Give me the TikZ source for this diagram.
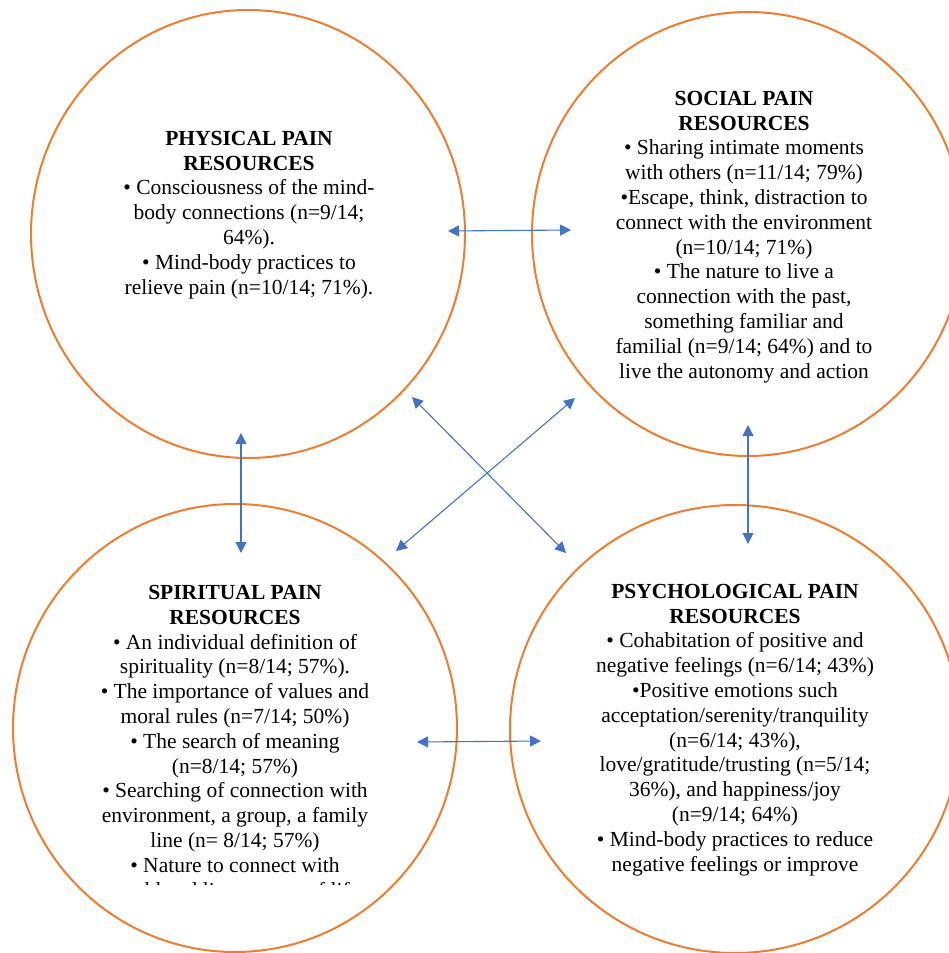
\documentclass[tikz,border=0pt]{standalone}
\usepackage{fontspec}
\setmainfont{Liberation Serif}
\usetikzlibrary{shapes.geometric,arrows.meta}
\definecolor{ringorange}{HTML}{ED7D31}
\definecolor{arrowblue}{HTML}{4472C4}
\tikzset{
  ring/.style={ellipse, draw=ringorange, line width=2pt, inner sep=0pt},
  txt/.style={align=center, inner sep=0pt, anchor=base, font=\fontsize{21.5}{24.8}\selectfont},
  biarrow/.style={draw=arrowblue, line width=1.1pt,
    {Triangle[length=11pt,width=11pt]}-{Triangle[length=11pt,width=11pt]}}
}
\begin{document}
\begin{tikzpicture}[x=1pt,y=-1pt]
\useasboundingbox (0,0) rectangle (949,953);
\fill[white] (0,0) rectangle (949,953);
% circles
\node[ring, minimum width=434pt, minimum height=448pt] (phys) at (248,234) {};
\node[ring, minimum width=432pt, minimum height=444pt] (soc) at (748,234) {};
\node[ring, minimum width=444pt, minimum height=448pt] (spir) at (235,728) {};
\node[ring, minimum width=450pt, minimum height=448pt] (psy) at (735,729) {};
% texts (anchor base = baseline of last line)
\node[txt] (tphys) at (249,294) {\textbf{PHYSICAL PAIN}\\\textbf{RESOURCES}\\• Consciousness of the mind-\\body connections (n=9/14;\\64\%).\\• Mind-body practices to\\relieve pain (n=10/14; 71\%).};
\node[txt] (tsoc) at (744,378) {\textbf{SOCIAL PAIN}\\\textbf{RESOURCES}\\• Sharing intimate moments\\with others (n=11/14; 79\%)\\•Escape, think, distraction to\\connect with the environment\\(n=10/14; 71\%)\\• The nature to live a\\connection with the past,\\something familiar and\\familial (n=9/14; 64\%) and to\\live the autonomy and action};
\begin{scope}
\clip (0,0) rectangle (949,884);
\node[txt] (tspir) at (235,897) {\textbf{SPIRITUAL PAIN}\\\textbf{RESOURCES}\\• An individual definition of\\spirituality (n=8/14; 57\%).\\• The importance of values and\\moral rules (n=7/14; 50\%)\\• The search of meaning\\(n=8/14; 57\%)\\• Searching of connection with\\environment, a group, a family\\line (n= 8/14; 57\%)\\• Nature to connect with\\world and live a sense of life};
\end{scope}
\node[txt] (tpsy) at (735,871) {\textbf{PSYCHOLOGICAL PAIN}\\\textbf{RESOURCES}\\• Cohabitation of positive and\\negative feelings (n=6/14; 43\%)\\•Positive emotions such\\acceptation/serenity/tranquility\\(n=6/14; 43\%),\\love/gratitude/trusting (n=5/14;\\36\%), and happiness/joy\\(n=9/14; 64\%)\\• Mind-body practices to reduce\\negative feelings or improve};
% arrow end points
\coordinate (a1) at (448,231);
\coordinate (a2) at (571,230);
\coordinate (b1) at (241,433);
\coordinate (b2) at (241,553);
\coordinate (c1) at (748,425);
\coordinate (c2) at (748,544);
\coordinate (d1) at (412,397);
\coordinate (d2) at (566,553);
\coordinate (e1) at (575,398);
\coordinate (e2) at (396,551);
\coordinate (f1) at (417,742);
\coordinate (f2) at (541,741);
\draw[biarrow] (a1) -- (a2);
\draw[biarrow] (b1) -- (b2);
\draw[biarrow] (c1) -- (c2);
\draw[biarrow] (d1) -- (d2);
\draw[biarrow] (e1) -- (e2);
\draw[biarrow] (f1) -- (f2);
\end{tikzpicture}
\end{document}
